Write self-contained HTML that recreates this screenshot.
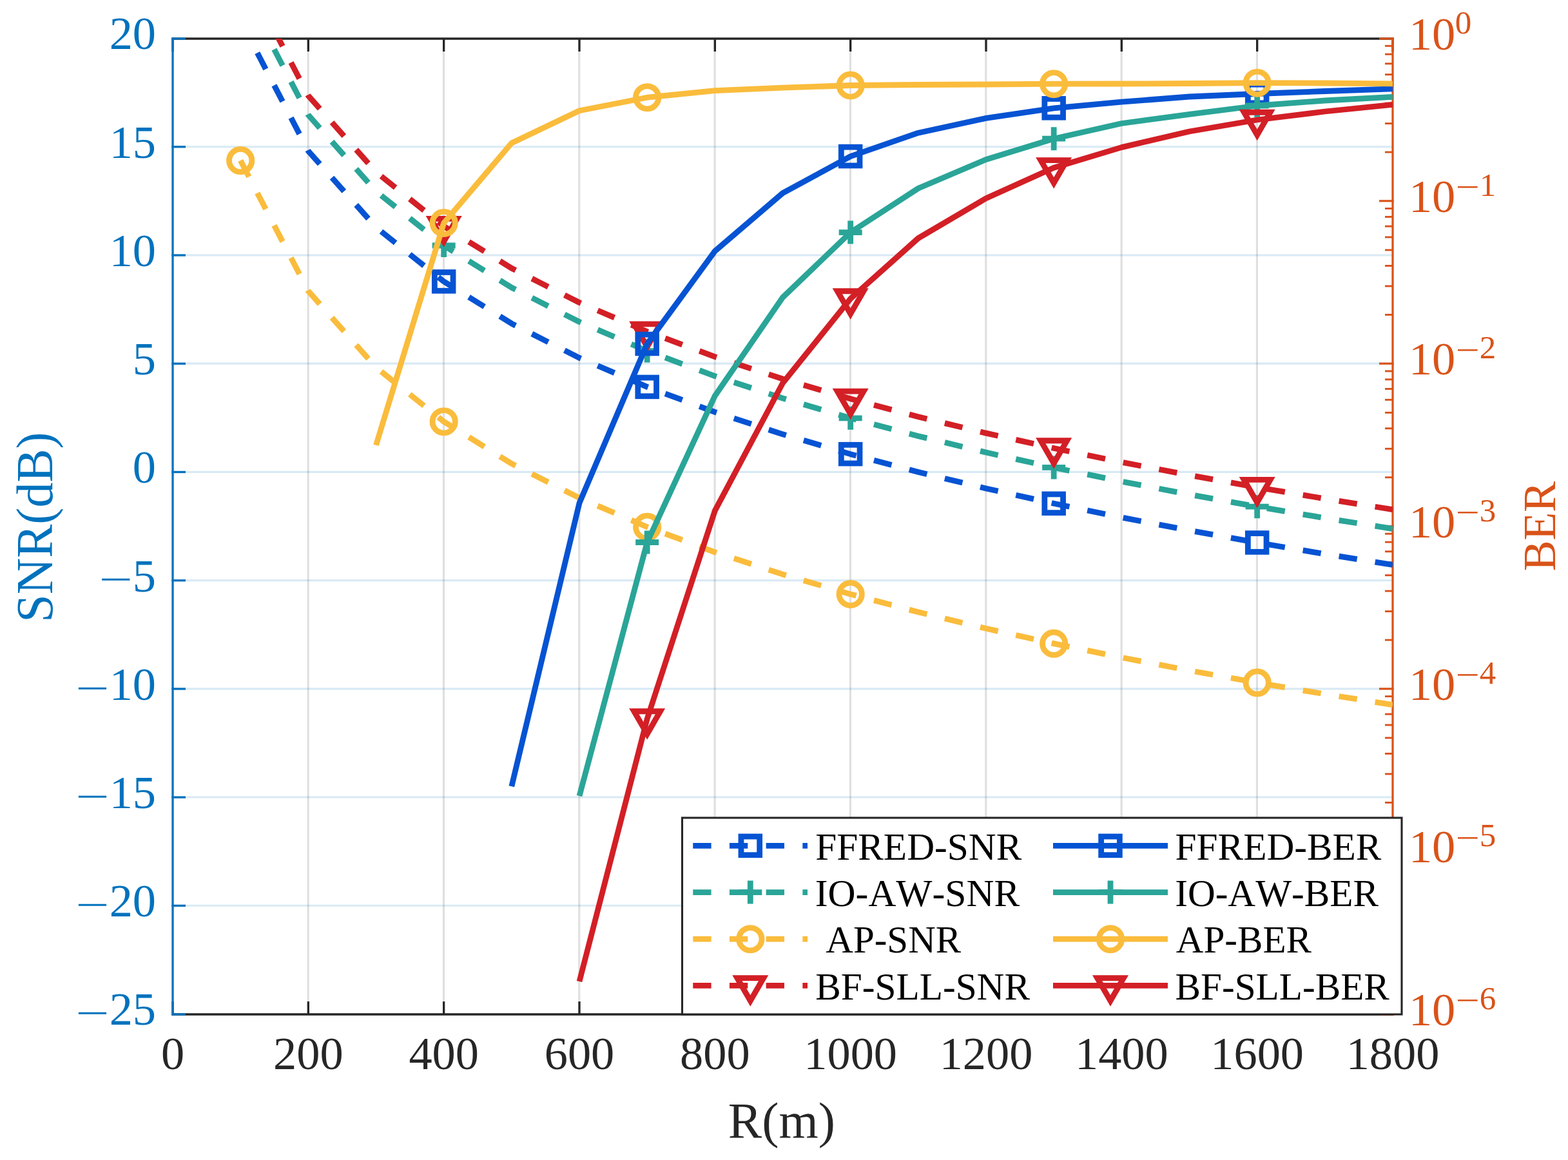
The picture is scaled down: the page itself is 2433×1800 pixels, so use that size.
<!DOCTYPE html>
<html lang="en"><head><meta charset="utf-8"><title>SNR and BER versus R</title>
<style>html,body{margin:0;padding:0;background:#fff}svg{display:block}text{font-family:"Liberation Serif",serif;font-kerning:none}</style></head><body>
<svg width="2433" height="1800" viewBox="0 0 2433 1800">
<rect width="2433" height="1800" fill="#fff"/>
<defs><clipPath id="ax"><rect x="268" y="60" width="1893" height="1514"/></clipPath></defs>
<g stroke="#262626" stroke-opacity="0.15" stroke-width="3.1" fill="none">
<path d="M478.13 60V1574"/>
<path d="M688.47 60V1574"/>
<path d="M898.8 60V1574"/>
<path d="M1109.13 60V1574"/>
<path d="M1319.47 60V1574"/>
<path d="M1529.8 60V1574"/>
<path d="M1740.13 60V1574"/>
<path d="M1950.47 60V1574"/>
</g>
<g stroke="#0072BD" stroke-opacity="0.15" stroke-width="3.1" fill="none">
<path d="M268 1405.28H2161"/>
<path d="M268 1237.06H2161"/>
<path d="M268 1068.83H2161"/>
<path d="M268 900.61H2161"/>
<path d="M268 732.39H2161"/>
<path d="M268 564.17H2161"/>
<path d="M268 395.94H2161"/>
<path d="M268 227.72H2161"/>
</g>
<g stroke="#262626" stroke-width="3.3" fill="none" stroke-linecap="butt">
<path d="M266.35 1574H2162.65"/>
<path d="M266.35 60H2162.65"/>
<path d="M268 1574V1554"/>
<path d="M268 60V80"/>
<path d="M478.33 1574V1554"/>
<path d="M478.33 60V80"/>
<path d="M688.67 1574V1554"/>
<path d="M688.67 60V80"/>
<path d="M899 1574V1554"/>
<path d="M899 60V80"/>
<path d="M1109.33 1574V1554"/>
<path d="M1109.33 60V80"/>
<path d="M1319.67 1574V1554"/>
<path d="M1319.67 60V80"/>
<path d="M1530 1574V1554"/>
<path d="M1530 60V80"/>
<path d="M1740.33 1574V1554"/>
<path d="M1740.33 60V80"/>
<path d="M1950.67 1574V1554"/>
<path d="M1950.67 60V80"/>
<path d="M2161 1574V1554"/>
<path d="M2161 60V80"/>
</g>
<g stroke="#0072BD" stroke-width="3.3" fill="none">
<path d="M268 58.35V1575.65"/>
<path d="M266.35 1574H288"/>
<path d="M266.35 1405.38H288"/>
<path d="M266.35 1237.16H288"/>
<path d="M266.35 1068.93H288"/>
<path d="M266.35 900.71H288"/>
<path d="M266.35 732.49H288"/>
<path d="M266.35 564.27H288"/>
<path d="M266.35 396.04H288"/>
<path d="M266.35 227.82H288"/>
<path d="M266.35 60H288"/>
</g>
<g stroke="#D95319" fill="none">
<path stroke-width="3.3" d="M2161 58.35V1575.65"/>
<path stroke-width="3.2" d="M2162.65 60H2140"/>
<path stroke-width="2.9" d="M2161 236.07H2149"/>
<path stroke-width="2.9" d="M2161 191.64H2149"/>
<path stroke-width="2.9" d="M2161 160.11H2149"/>
<path stroke-width="2.9" d="M2161 135.66H2149"/>
<path stroke-width="2.9" d="M2161 115.68H2149"/>
<path stroke-width="2.9" d="M2161 98.79H2149"/>
<path stroke-width="2.9" d="M2161 84.15H2149"/>
<path stroke-width="2.9" d="M2161 71.25H2149"/>
<path stroke-width="3.2" d="M2162.65 311.83H2140"/>
<path stroke-width="2.9" d="M2161 488.41H2149"/>
<path stroke-width="2.9" d="M2161 443.97H2149"/>
<path stroke-width="2.9" d="M2161 412.45H2149"/>
<path stroke-width="2.9" d="M2161 387.99H2149"/>
<path stroke-width="2.9" d="M2161 368.01H2149"/>
<path stroke-width="2.9" d="M2161 351.12H2149"/>
<path stroke-width="2.9" d="M2161 336.49H2149"/>
<path stroke-width="2.9" d="M2161 323.58H2149"/>
<path stroke-width="3.2" d="M2162.65 564.17H2140"/>
<path stroke-width="2.9" d="M2161 740.74H2149"/>
<path stroke-width="2.9" d="M2161 696.31H2149"/>
<path stroke-width="2.9" d="M2161 664.78H2149"/>
<path stroke-width="2.9" d="M2161 640.33H2149"/>
<path stroke-width="2.9" d="M2161 620.35H2149"/>
<path stroke-width="2.9" d="M2161 603.45H2149"/>
<path stroke-width="2.9" d="M2161 588.82H2149"/>
<path stroke-width="2.9" d="M2161 575.91H2149"/>
<path stroke-width="3.2" d="M2162.65 816.5H2140"/>
<path stroke-width="2.9" d="M2161 993.07H2149"/>
<path stroke-width="2.9" d="M2161 948.64H2149"/>
<path stroke-width="2.9" d="M2161 917.11H2149"/>
<path stroke-width="2.9" d="M2161 892.66H2149"/>
<path stroke-width="2.9" d="M2161 872.68H2149"/>
<path stroke-width="2.9" d="M2161 855.79H2149"/>
<path stroke-width="2.9" d="M2161 841.15H2149"/>
<path stroke-width="2.9" d="M2161 828.25H2149"/>
<path stroke-width="3.2" d="M2162.65 1068.83H2140"/>
<path stroke-width="2.9" d="M2161 1245.41H2149"/>
<path stroke-width="2.9" d="M2161 1200.97H2149"/>
<path stroke-width="2.9" d="M2161 1169.45H2149"/>
<path stroke-width="2.9" d="M2161 1144.99H2149"/>
<path stroke-width="2.9" d="M2161 1125.01H2149"/>
<path stroke-width="2.9" d="M2161 1108.12H2149"/>
<path stroke-width="2.9" d="M2161 1093.49H2149"/>
<path stroke-width="2.9" d="M2161 1080.58H2149"/>
<path stroke-width="3.2" d="M2162.65 1321.17H2140"/>
<path stroke-width="2.9" d="M2161 1497.74H2149"/>
<path stroke-width="2.9" d="M2161 1453.31H2149"/>
<path stroke-width="2.9" d="M2161 1421.78H2149"/>
<path stroke-width="2.9" d="M2161 1397.33H2149"/>
<path stroke-width="2.9" d="M2161 1377.35H2149"/>
<path stroke-width="2.9" d="M2161 1360.45H2149"/>
<path stroke-width="2.9" d="M2161 1345.82H2149"/>
<path stroke-width="2.9" d="M2161 1332.91H2149"/>
<path stroke-width="3.2" d="M2162.65 1574H2140"/>
</g>
<g clip-path="url(#ax)" fill="none" stroke-linecap="butt" stroke-linejoin="round">
<polyline points="373.17,31.74 478.33,234.3 583.5,352.79 688.67,436.86 793.83,502.07 899,555.35 1004.17,600.4 1109.33,639.42 1214.5,673.84 1319.67,704.63 1424.83,732.48 1530,757.91 1635.17,781.3 1740.33,802.96 1845.5,823.12 1950.67,841.98 2055.83,859.69 2161,876.4" stroke="#0653D3" stroke-width="8.8" stroke-dasharray="28.35 28.35"/>
<rect x="674.32" y="422.51" width="28.7" height="28.7" fill="none" stroke="#0653D3" stroke-width="8.8" stroke-linejoin="miter"/>
<rect x="989.82" y="586.05" width="28.7" height="28.7" fill="none" stroke="#0653D3" stroke-width="8.8" stroke-linejoin="miter"/>
<rect x="1305.32" y="690.28" width="28.7" height="28.7" fill="none" stroke="#0653D3" stroke-width="8.8" stroke-linejoin="miter"/>
<rect x="1620.82" y="766.95" width="28.7" height="28.7" fill="none" stroke="#0653D3" stroke-width="8.8" stroke-linejoin="miter"/>
<rect x="1936.32" y="827.63" width="28.7" height="28.7" fill="none" stroke="#0653D3" stroke-width="8.8" stroke-linejoin="miter"/>
<polyline points="373.17,-24.11 478.33,178.45 583.5,296.94 688.67,381.01 793.83,446.22 899,499.5 1004.17,544.55 1109.33,583.57 1214.5,617.99 1319.67,648.78 1424.83,676.63 1530,702.06 1635.17,725.45 1740.33,747.11 1845.5,767.27 1950.67,786.13 2055.83,803.84 2161,820.55" stroke="#2AA598" stroke-width="8.8" stroke-dasharray="28.35 28.35"/>
<path d="M670.67 381.01H706.67M688.67 363.01V399.01" fill="none" stroke="#2AA598" stroke-width="8.8"/>
<path d="M986.17 544.55H1022.17M1004.17 526.55V562.55" fill="none" stroke="#2AA598" stroke-width="8.8"/>
<path d="M1301.67 648.78H1337.67M1319.67 630.78V666.78" fill="none" stroke="#2AA598" stroke-width="8.8"/>
<path d="M1617.17 725.45H1653.17M1635.17 707.45V743.45" fill="none" stroke="#2AA598" stroke-width="8.8"/>
<path d="M1932.67 786.13H1968.67M1950.67 768.13V804.13" fill="none" stroke="#2AA598" stroke-width="8.8"/>
<polyline points="373.17,249.08 478.33,451.64 583.5,570.13 688.67,654.2 793.83,719.41 899,772.69 1004.17,817.74 1109.33,856.76 1214.5,891.18 1319.67,921.97 1424.83,949.82 1530,975.25 1635.17,998.64 1740.33,1020.3 1845.5,1040.46 1950.67,1059.32 2055.83,1077.04 2161,1093.74" stroke="#FABC3C" stroke-width="8.8" stroke-dasharray="28.35 28.35"/>
<circle cx="373.17" cy="249.08" r="17.65" fill="none" stroke="#FABC3C" stroke-width="8.8"/>
<circle cx="688.67" cy="654.2" r="17.65" fill="none" stroke="#FABC3C" stroke-width="8.8"/>
<circle cx="1004.17" cy="817.74" r="17.65" fill="none" stroke="#FABC3C" stroke-width="8.8"/>
<circle cx="1319.67" cy="921.97" r="17.65" fill="none" stroke="#FABC3C" stroke-width="8.8"/>
<circle cx="1635.17" cy="998.64" r="17.65" fill="none" stroke="#FABC3C" stroke-width="8.8"/>
<circle cx="1950.67" cy="1059.32" r="17.65" fill="none" stroke="#FABC3C" stroke-width="8.8"/>
<polyline points="373.17,-54.05 478.33,148.51 583.5,266.99 688.67,351.06 793.83,416.27 899,469.55 1004.17,514.6 1109.33,553.62 1214.5,588.04 1319.67,618.83 1424.83,646.69 1530,672.11 1635.17,695.51 1740.33,717.16 1845.5,737.32 1950.67,756.18 2055.83,773.9 2161,790.6" stroke="#D31F26" stroke-width="8.8" stroke-dasharray="28.35 28.35"/>
<path d="M668.27 339.29L709.07 339.29L688.67 374.6Z" fill="none" stroke="#D31F26" stroke-width="8.8" stroke-linejoin="miter" stroke-miterlimit="10"/>
<path d="M983.77 502.83L1024.57 502.83L1004.17 538.14Z" fill="none" stroke="#D31F26" stroke-width="8.8" stroke-linejoin="miter" stroke-miterlimit="10"/>
<path d="M1299.27 607.06L1340.07 607.06L1319.67 642.37Z" fill="none" stroke="#D31F26" stroke-width="8.8" stroke-linejoin="miter" stroke-miterlimit="10"/>
<path d="M1614.77 683.74L1655.57 683.74L1635.17 719.05Z" fill="none" stroke="#D31F26" stroke-width="8.8" stroke-linejoin="miter" stroke-miterlimit="10"/>
<path d="M1930.27 744.41L1971.07 744.41L1950.67 779.72Z" fill="none" stroke="#D31F26" stroke-width="8.8" stroke-linejoin="miter" stroke-miterlimit="10"/>
</g>
<g clip-path="url(#ax)" fill="none" stroke-linecap="butt" stroke-linejoin="round">
<polyline points="793.83,1220.2 899,780.5 1004.17,533.5 1109.33,389.7 1214.5,299.6 1319.67,242.6 1424.83,206.2 1530,183.4 1635.17,167.8 1740.33,158.2 1845.5,150 1950.67,145.5 2055.83,141.5 2161,137.8" stroke="#0653D3" stroke-width="8.8"/>
<rect x="989.82" y="519.15" width="28.7" height="28.7" fill="none" stroke="#0653D3" stroke-width="8.8" stroke-linejoin="miter"/>
<rect x="1305.32" y="228.25" width="28.7" height="28.7" fill="none" stroke="#0653D3" stroke-width="8.8" stroke-linejoin="miter"/>
<rect x="1620.82" y="153.45" width="28.7" height="28.7" fill="none" stroke="#0653D3" stroke-width="8.8" stroke-linejoin="miter"/>
<rect x="1936.32" y="131.15" width="28.7" height="28.7" fill="none" stroke="#0653D3" stroke-width="8.8" stroke-linejoin="miter"/>
<polyline points="899,1235.2 1004.17,841.5 1109.33,614.2 1214.5,461.5 1319.67,360.6 1424.83,292.3 1530,247.5 1635.17,215.2 1740.33,191.5 1845.5,177.3 1950.67,164 2055.83,156 2161,150.3" stroke="#2AA598" stroke-width="8.8"/>
<path d="M986.17 841.5H1022.17M1004.17 823.5V859.5" fill="none" stroke="#2AA598" stroke-width="8.8"/>
<path d="M1301.67 360.6H1337.67M1319.67 342.6V378.6" fill="none" stroke="#2AA598" stroke-width="8.8"/>
<path d="M1617.17 215.2H1653.17M1635.17 197.2V233.2" fill="none" stroke="#2AA598" stroke-width="8.8"/>
<path d="M1932.67 164H1968.67M1950.67 146V182" fill="none" stroke="#2AA598" stroke-width="8.8"/>
<polyline points="583.5,690.8 688.67,346 793.83,222 899,171.7 1004.17,151.2 1109.33,140.6 1214.5,136.2 1319.67,132.5 1424.83,131.5 1530,131 1635.17,130.2 1740.33,130 1845.5,129.5 1950.67,128.7 2055.83,129 2161,129.8" stroke="#FABC3C" stroke-width="8.8"/>
<circle cx="688.67" cy="346" r="17.65" fill="none" stroke="#FABC3C" stroke-width="8.8"/>
<circle cx="1004.17" cy="151.2" r="17.65" fill="none" stroke="#FABC3C" stroke-width="8.8"/>
<circle cx="1319.67" cy="132.5" r="17.65" fill="none" stroke="#FABC3C" stroke-width="8.8"/>
<circle cx="1635.17" cy="130.2" r="17.65" fill="none" stroke="#FABC3C" stroke-width="8.8"/>
<circle cx="1950.67" cy="128.7" r="17.65" fill="none" stroke="#FABC3C" stroke-width="8.8"/>
<polyline points="899,1523 1004.17,1115.5 1109.33,792.4 1214.5,594.5 1319.67,463.5 1424.83,369.6 1530,307.7 1635.17,260.3 1740.33,228.6 1845.5,204 1950.67,186 2055.83,173 2161,162.3" stroke="#D31F26" stroke-width="8.8"/>
<path d="M983.77 1103.73L1024.57 1103.73L1004.17 1139.04Z" fill="none" stroke="#D31F26" stroke-width="8.8" stroke-linejoin="miter" stroke-miterlimit="10"/>
<path d="M1299.27 451.73L1340.07 451.73L1319.67 487.04Z" fill="none" stroke="#D31F26" stroke-width="8.8" stroke-linejoin="miter" stroke-miterlimit="10"/>
<path d="M1614.77 248.53L1655.57 248.53L1635.17 283.84Z" fill="none" stroke="#D31F26" stroke-width="8.8" stroke-linejoin="miter" stroke-miterlimit="10"/>
<path d="M1930.27 174.23L1971.07 174.23L1950.67 209.54Z" fill="none" stroke="#D31F26" stroke-width="8.8" stroke-linejoin="miter" stroke-miterlimit="10"/>
</g>
<text transform="translate(242 1590.4) scale(0.7240 0.7240)" font-size="100" text-anchor="end" fill="#0072BD">25</text>
<text transform="translate(117.35 1592.32) scale(0.9290 0.6000)" font-size="100" fill="#0072BD">−</text>
<text transform="translate(242 1422.18) scale(0.7240 0.7240)" font-size="100" text-anchor="end" fill="#0072BD">20</text>
<text transform="translate(117.35 1424.1) scale(0.9290 0.6000)" font-size="100" fill="#0072BD">−</text>
<text transform="translate(242 1253.96) scale(0.7240 0.7240)" font-size="100" text-anchor="end" fill="#0072BD">15</text>
<text transform="translate(117.35 1255.88) scale(0.9290 0.6000)" font-size="100" fill="#0072BD">−</text>
<text transform="translate(242 1085.73) scale(0.7240 0.7240)" font-size="100" text-anchor="end" fill="#0072BD">10</text>
<text transform="translate(117.35 1087.65) scale(0.9290 0.6000)" font-size="100" fill="#0072BD">−</text>
<text transform="translate(242 917.51) scale(0.7240 0.7240)" font-size="100" text-anchor="end" fill="#0072BD">5</text>
<text transform="translate(153.55 919.43) scale(0.9290 0.6000)" font-size="100" fill="#0072BD">−</text>
<text transform="translate(242 749.29) scale(0.7240 0.7240)" font-size="100" text-anchor="end" fill="#0072BD">0</text>
<text transform="translate(242 581.07) scale(0.7240 0.7240)" font-size="100" text-anchor="end" fill="#0072BD">5</text>
<text transform="translate(242 412.84) scale(0.7240 0.7240)" font-size="100" text-anchor="end" fill="#0072BD">10</text>
<text transform="translate(242 244.62) scale(0.7240 0.7240)" font-size="100" text-anchor="end" fill="#0072BD">15</text>
<text transform="translate(242 76.4) scale(0.7240 0.7240)" font-size="100" text-anchor="end" fill="#0072BD">20</text>
<text transform="translate(268 1659.4) scale(0.7240 0.7240)" font-size="100" text-anchor="middle" fill="#262626">0</text>
<text transform="translate(478.33 1659.4) scale(0.7240 0.7240)" font-size="100" text-anchor="middle" fill="#262626">200</text>
<text transform="translate(688.67 1659.4) scale(0.7240 0.7240)" font-size="100" text-anchor="middle" fill="#262626">400</text>
<text transform="translate(899 1659.4) scale(0.7240 0.7240)" font-size="100" text-anchor="middle" fill="#262626">600</text>
<text transform="translate(1109.33 1659.4) scale(0.7240 0.7240)" font-size="100" text-anchor="middle" fill="#262626">800</text>
<text transform="translate(1319.67 1659.4) scale(0.7240 0.7240)" font-size="100" text-anchor="middle" fill="#262626">1000</text>
<text transform="translate(1530 1659.4) scale(0.7240 0.7240)" font-size="100" text-anchor="middle" fill="#262626">1200</text>
<text transform="translate(1740.33 1659.4) scale(0.7240 0.7240)" font-size="100" text-anchor="middle" fill="#262626">1400</text>
<text transform="translate(1950.67 1659.4) scale(0.7240 0.7240)" font-size="100" text-anchor="middle" fill="#262626">1600</text>
<text transform="translate(2161 1659.4) scale(0.7240 0.7240)" font-size="100" text-anchor="middle" fill="#262626">1800</text>
<text transform="translate(2185.9 76.6) scale(0.7240 0.7240)" font-size="100" fill="#D95319">10</text>
<text transform="translate(2257.7 51.8) scale(0.5100 0.5100)" font-size="100" fill="#D95319">0</text>
<text transform="translate(2185.9 328.93) scale(0.7240 0.7240)" font-size="100" fill="#D95319">10</text>
<text transform="translate(2258.61 307.33) scale(0.6581 0.5000)" font-size="100" fill="#D95319">−</text>
<text transform="translate(2295.8 304.13) scale(0.5100 0.5100)" font-size="100" fill="#D95319">1</text>
<text transform="translate(2185.9 581.27) scale(0.7240 0.7240)" font-size="100" fill="#D95319">10</text>
<text transform="translate(2258.61 559.67) scale(0.6581 0.5000)" font-size="100" fill="#D95319">−</text>
<text transform="translate(2295.8 556.47) scale(0.5100 0.5100)" font-size="100" fill="#D95319">2</text>
<text transform="translate(2185.9 833.6) scale(0.7240 0.7240)" font-size="100" fill="#D95319">10</text>
<text transform="translate(2258.61 812) scale(0.6581 0.5000)" font-size="100" fill="#D95319">−</text>
<text transform="translate(2295.8 808.8) scale(0.5100 0.5100)" font-size="100" fill="#D95319">3</text>
<text transform="translate(2185.9 1085.93) scale(0.7240 0.7240)" font-size="100" fill="#D95319">10</text>
<text transform="translate(2258.61 1064.33) scale(0.6581 0.5000)" font-size="100" fill="#D95319">−</text>
<text transform="translate(2295.8 1061.13) scale(0.5100 0.5100)" font-size="100" fill="#D95319">4</text>
<text transform="translate(2185.9 1338.27) scale(0.7240 0.7240)" font-size="100" fill="#D95319">10</text>
<text transform="translate(2258.61 1316.67) scale(0.6581 0.5000)" font-size="100" fill="#D95319">−</text>
<text transform="translate(2295.8 1313.47) scale(0.5100 0.5100)" font-size="100" fill="#D95319">5</text>
<text transform="translate(2185.9 1590.6) scale(0.7240 0.7240)" font-size="100" fill="#D95319">10</text>
<text transform="translate(2258.61 1569) scale(0.6581 0.5000)" font-size="100" fill="#D95319">−</text>
<text transform="translate(2295.8 1565.8) scale(0.5100 0.5100)" font-size="100" fill="#D95319">6</text>
<text transform="translate(1129.73 1764.9) scale(0.7870 0.7910)" font-size="100" fill="#262626">R(m)</text>
<text transform="translate(80.9 965.63) rotate(-90) scale(0.7815 0.7940)" font-size="100" fill="#0072BD">SNR(dB)</text>
<text transform="translate(2413.2 886.26) rotate(-90) scale(0.7166 0.7206)" font-size="100" fill="#D95319">BER</text>
<rect x="1058.5" y="1269" width="1116.5" height="305" fill="#fff" stroke="#262626" stroke-width="3.1"/>
<path d="M1075.25 1312.4H1253" fill="none" stroke="#0653D3" stroke-width="8.8" stroke-dasharray="28.35 28.35"/>
<rect x="1149.95" y="1298.05" width="28.7" height="28.7" fill="none" stroke="#0653D3" stroke-width="8.8" stroke-linejoin="miter"/>
<text transform="translate(1265.19 1334.2) scale(0.5940 0.5970)" font-size="100" fill="#000">FFRED-SNR</text>
<path d="M1634 1312.4H1812" fill="none" stroke="#0653D3" stroke-width="8.8"/>
<rect x="1708.65" y="1298.05" width="28.7" height="28.7" fill="none" stroke="#0653D3" stroke-width="8.8" stroke-linejoin="miter"/>
<text transform="translate(1823.59 1334.2) scale(0.5935 0.5970)" font-size="100" fill="#000">FFRED-BER</text>
<path d="M1075.25 1384.6H1253" fill="none" stroke="#2AA598" stroke-width="8.8" stroke-dasharray="28.35 28.35"/>
<path d="M1146.3 1384.6H1182.3M1164.3 1366.6V1402.6" fill="none" stroke="#2AA598" stroke-width="8.8"/>
<text transform="translate(1264.75 1406.2) scale(0.5953 0.5970)" font-size="100" fill="#000">IO-AW-SNR</text>
<path d="M1634 1384.6H1812" fill="none" stroke="#2AA598" stroke-width="8.8"/>
<path d="M1705 1384.6H1741M1723 1366.6V1402.6" fill="none" stroke="#2AA598" stroke-width="8.8"/>
<text transform="translate(1823.16 1406.2) scale(0.5923 0.5970)" font-size="100" fill="#000">IO-AW-BER</text>
<path d="M1075.25 1457.2H1253" fill="none" stroke="#FABC3C" stroke-width="8.8" stroke-dasharray="28.35 28.35"/>
<circle cx="1164.3" cy="1457.2" r="17.65" fill="none" stroke="#FABC3C" stroke-width="8.8"/>
<text transform="translate(1281.32 1478.2) scale(0.5898 0.5970)" font-size="100" fill="#000">AP-SNR</text>
<path d="M1634 1457.2H1812" fill="none" stroke="#FABC3C" stroke-width="8.8"/>
<circle cx="1723" cy="1457.2" r="17.65" fill="none" stroke="#FABC3C" stroke-width="8.8"/>
<text transform="translate(1824.72 1478.2) scale(0.5913 0.5970)" font-size="100" fill="#000">AP-BER</text>
<path d="M1075.25 1529.4H1253" fill="none" stroke="#D31F26" stroke-width="8.8" stroke-dasharray="28.35 28.35"/>
<path d="M1143.9 1517.63L1184.7 1517.63L1164.3 1552.94Z" fill="none" stroke="#D31F26" stroke-width="8.8" stroke-linejoin="miter" stroke-miterlimit="10"/>
<text transform="translate(1265.19 1550.8) scale(0.5930 0.5970)" font-size="100" fill="#000">BF-SLL-SNR</text>
<path d="M1634 1529.4H1812" fill="none" stroke="#D31F26" stroke-width="8.8"/>
<path d="M1702.6 1517.63L1743.4 1517.63L1723 1552.94Z" fill="none" stroke="#D31F26" stroke-width="8.8" stroke-linejoin="miter" stroke-miterlimit="10"/>
<text transform="translate(1823.59 1550.8) scale(0.5921 0.5970)" font-size="100" fill="#000">BF-SLL-BER</text>
</svg></body></html>
